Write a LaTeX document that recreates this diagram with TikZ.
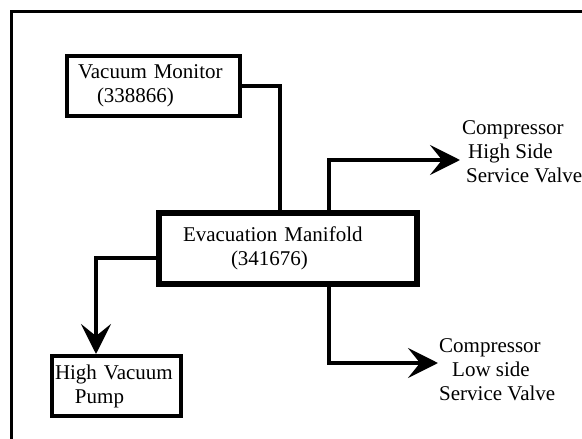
\documentclass[tikz,border=0pt]{standalone}
\usepackage{fontspec}
\setmainfont{Liberation Serif}
\usetikzlibrary{arrows.meta}

\tikzset{
  flow/.style={line width=3.5pt,-{Stealth[length=30pt,width=30pt,inset=12pt]}}
}

\begin{document}
\begin{tikzpicture}[x=1pt,y=-1pt,font=\fontsize{21}{24}\selectfont]
    \useasboundingbox (0,0) rectangle (582,439);
    \draw[line width=3pt] (11,450) -- (11,11) -- (600,11);
    \begin{scope}[every node/.style={rectangle,draw,align=left,line width=4pt}]
      \node[text width=151pt,inner xsep=11pt,minimum height=60pt] (vm) at (153.5,86)
        {Vacuum Monitor\\\hspace*{19pt}(338866)};
      \node[line width=6.5pt,text width=210pt,inner xsep=24pt,minimum height=71pt] (man) at (288,248.5)
        {Evacuation Manifold\\\hspace*{48pt}(341676)};
      \node[text width=123pt,inner xsep=3pt,minimum height=60pt] (pump) at (116.5,386)
        {High Vacuum\\\hspace*{20pt}Pump};
    \end{scope}
    \begin{scope}[every node/.style={align=left,inner sep=0pt,anchor=west}]
      \node (hs) at (462,152) {Compressor\\\hspace*{6pt}High Side\\\hspace*{4pt}Service Valve};
      \node (ls) at (439,370) {Compressor\\\hspace*{13pt}Low side\\Service Valve};
    \end{scope}
    \coordinate (hstip) at (460,160);
    \coordinate (lstip) at (438,363);
    \draw[line width=3.5pt] (vm.east) -| ([xshift=-8pt]man.north);
    \draw[flow] ([xshift=41pt]man.north) |- (hstip);
    \draw[flow] ([xshift=41pt]man.south) |- (lstip);
    \draw[flow] ([yshift=-9.5pt]man.west) -| ([xshift=-20.5pt]pump.north);
\end{tikzpicture}
\end{document}
